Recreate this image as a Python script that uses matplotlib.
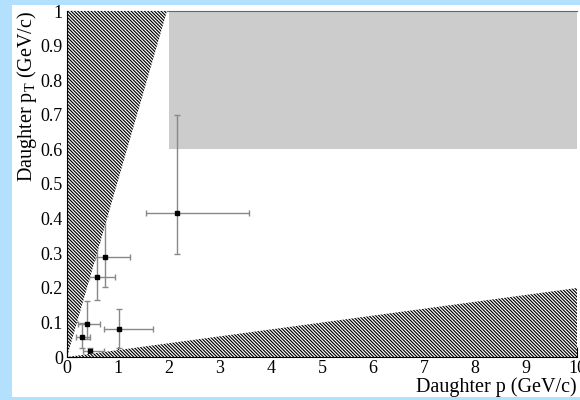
import numpy as np
import matplotlib
matplotlib.use('Agg')
import matplotlib.pyplot as plt
from matplotlib.patches import Rectangle, Polygon

plt.rcParams['font.family'] = ['Liberation Serif', 'DejaVu Serif']
plt.rcParams['hatch.linewidth'] = 0.85
plt.rcParams['mathtext.fontset'] = 'custom'
plt.rcParams['mathtext.rm'] = 'Liberation Serif'
plt.rcParams['mathtext.it'] = 'Liberation Serif'

# measured daughter tracks
p = [2.16, 0.75, 0.59, 0.40, 0.29, 1.02, 0.45]
pt = [0.417, 0.288, 0.231, 0.095, 0.059, 0.081, 0.018]
p_lo = [0.61, 0.20, 0.15, 0.18, 0.11, 0.29, 0.13]
p_hi = [1.41, 0.49, 0.36, 0.25, 0.17, 0.67, 0.28]
pt_lo = [0.12, 0.085, 0.066, 0.044, 0.033, 0.054, 0.02]
pt_hi = [0.282, 0.12, 0.10, 0.067, 0.038, 0.057, 0.007]

# excluded regions
left_wedge_p = [0.0, 0.0, 1.96]
left_wedge_pt = [0.0, 1.0, 1.0]
low_wedge_p = [0.0, 10.0, 10.0]
low_wedge_pt = [0.0, 0.0, 0.2]
box_p = (2.0, 10.0)
box_pt = (0.6, 1.0)

xticks = np.arange(0, 11, 1)
yticks = np.round(np.arange(0, 1.01, 0.1), 1)
ylabels = ['0'] + ['%.1f' % v for v in yticks[1:-1]] + ['1']

fig = plt.figure(figsize=(5.8, 4.0), dpi=100)
fig.patch.set_facecolor('#b3e1fd')

# white pad behind the plot
bg = fig.add_axes([12 / 580, 3 / 400, 1, 392 / 400], zorder=0)
bg.axis('off')
bg.add_patch(Rectangle((0, 0), 1, 1, transform=bg.transAxes, facecolor='white', edgecolor='none'))

ax = fig.add_axes([67 / 580, 43 / 400, 510 / 580, 346 / 400], zorder=1)
ax.set_facecolor('none')
ax.set_xlim(0, 10)
ax.set_ylim(0, 1)

# gray box
ax.add_patch(Rectangle((box_p[0], box_pt[0]), box_p[1] - box_p[0], box_pt[1] - box_pt[0],
                       facecolor='#cccccc', edgecolor='none', zorder=1))

ax.errorbar(p, pt, xerr=[p_lo, p_hi], yerr=[pt_lo, pt_hi], fmt='s', ms=3,
            mfc='black', mec='black', ecolor='#888888', elinewidth=1.0,
            capsize=2, capthick=1.0, zorder=2)

for xs, ys in [(left_wedge_p, left_wedge_pt), (low_wedge_p, low_wedge_pt)]:
    ax.add_patch(Polygon(np.column_stack([xs, ys]), closed=True, facecolor='white',
                         edgecolor='black', hatch='\\' * 10, lw=0, zorder=3))

ax.set_xticks(xticks)
ax.set_xticklabels([str(v) for v in xticks])
ax.set_yticks(yticks)
ax.set_yticklabels(ylabels)
ax.tick_params(direction='in', length=7, labelsize=13, pad=2, top=False, right=False)
ax.tick_params(axis='y', pad=3)

ax.spines['right'].set_visible(False)
ax.spines['top'].set_color('#666666')
ax.spines['left'].set_zorder(4)
ax.spines['bottom'].set_zorder(4)

ax.set_xlabel('Daughter p (GeV/c)', fontsize=14.5, loc='right', labelpad=0)
ax.set_ylabel('Daughter p$_\\mathregular{T}$ (GeV/c)', fontsize=14.5, loc='top', labelpad=1)

fig.savefig('out.png', dpi=100, facecolor=fig.get_facecolor())
